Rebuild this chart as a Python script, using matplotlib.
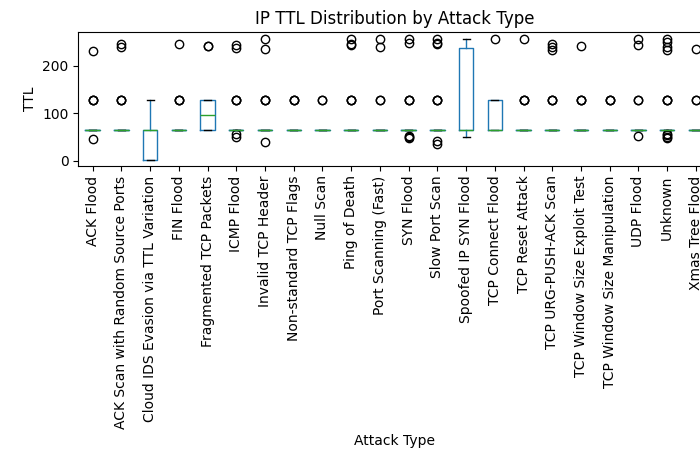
import matplotlib
matplotlib.use("Agg")
import matplotlib.pyplot as plt

attack_types = [
    "ACK Flood",
    "ACK Scan with Random Source Ports",
    "Cloud IDS Evasion via TTL Variation",
    "FIN Flood",
    "Fragmented TCP Packets",
    "ICMP Flood",
    "Invalid TCP Header",
    "Non-standard TCP Flags",
    "Null Scan",
    "Ping of Death",
    "Port Scanning (Fast)",
    "SYN Flood",
    "Slow Port Scan",
    "Spoofed IP SYN Flood",
    "TCP Connect Flood",
    "TCP Reset Attack",
    "TCP URG-PUSH-ACK Scan",
    "TCP Window Size Exploit Test",
    "TCP Window Size Manipulation",
    "UDP Flood",
    "Unknown",
    "Xmas Tree Flood",
]

# observed IP TTL values per attack type
ttl_values = [
    [64] * 20 + [128] * 3 + [230, 47],
    [64] * 20 + [128] * 3 + [246, 240],
    [1] * 4 + [64] * 5 + [128],
    [64] * 20 + [128] * 3 + [245],
    [64] * 5 + [128] * 3 + [242, 241],
    [64] * 20 + [128] * 3 + [244, 238, 56, 51],
    [64] * 20 + [128] * 3 + [255, 234, 40],
    [64] * 20 + [128] * 3,
    [64] * 20 + [128] * 2,
    [64] * 20 + [128] * 3 + [255, 245, 243],
    [64] * 20 + [128] * 2 + [255, 240],
    [64] * 20 + [128] * 3 + [255, 247, 52, 50, 49],
    [64] * 20 + [128] * 3 + [255, 247, 245, 42, 35],
    [50] + [64] * 5 + [238] * 2 + [255],
    [64] * 4 + [128] * 2 + [255],
    [64] * 20 + [128] * 3 + [255],
    [64] * 20 + [128] * 3 + [245, 240, 233],
    [64] * 20 + [128] * 3 + [241],
    [64] * 20 + [128] * 3,
    [64] * 20 + [128] * 2 + [255, 244, 53],
    [64] * 20 + [128] * 3 + [255, 250, 240, 232, 57, 54, 50, 48],
    [64] * 20 + [128] * 2 + [236],
]

fig = plt.figure(figsize=(7, 4.54), dpi=100)
ax = fig.add_axes([78.3 / 700, 0.635, 632 / 700, 133.4 / 454])

ax.boxplot(
    ttl_values,
    widths=0.5,
    boxprops=dict(color="#1f77b4"),
    whiskerprops=dict(color="#1f77b4"),
    medianprops=dict(color="#2ca02c"),
    capprops=dict(color="black"),
    flierprops=dict(marker="o", markerfacecolor="none", markeredgecolor="black"),
)
ax.set_xticks(range(1, len(attack_types) + 1))
ax.set_xticklabels(attack_types, rotation=90)
ax.set_ylim(-10, 270)

ax.set_title("IP TTL Distribution by Attack Type")
ax.set_xlabel("Attack Type")
ax.set_ylabel("TTL")

fig.savefig("out.png", dpi=100)
